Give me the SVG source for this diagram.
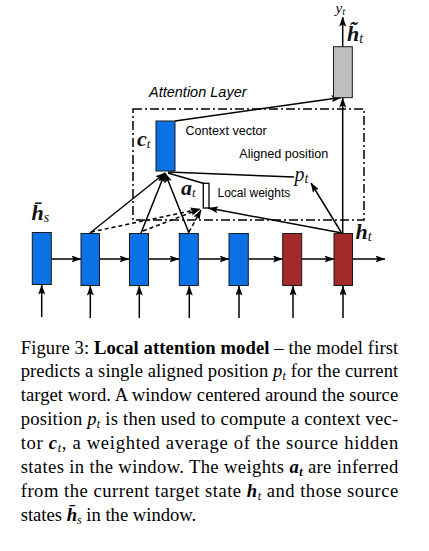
<svg xmlns="http://www.w3.org/2000/svg" width="429" height="551" viewBox="0 0 429 551">
<defs>
<marker id="ah" markerWidth="10" markerHeight="7" refX="9.5" refY="3.5" orient="auto" markerUnits="userSpaceOnUse">
<path d="M0,0 L10,3.5 L0,7 L2,3.5 Z" fill="#000"/>
</marker>
<style>
.blue{fill:#0a72e6;stroke:#1a1a1a;stroke-width:1}
.red{fill:#a3292b;stroke:#1a1a1a;stroke-width:1}
.gray{fill:#bfbfbf;stroke:#1a1a1a;stroke-width:1}
.ln{stroke:#000;stroke-width:1.5;fill:none}
.ar{stroke:#000;stroke-width:1.5;fill:none;marker-end:url(#ah)}
.da{stroke:#000;stroke-width:1.5;fill:none;stroke-dasharray:4,3;marker-end:url(#ah)}
.sans{font-family:"Liberation Sans",Arial,sans-serif;fill:#000}
.math{font-family:"Liberation Serif","Times New Roman",serif;font-style:italic;fill:#111}
.bm{font-family:"Liberation Serif","Times New Roman",serif;font-style:italic;font-weight:bold;fill:#111}
.cap{font-family:"Liberation Serif","Times New Roman",serif;font-size:18.6px;fill:#000}
</style>
</defs>
<rect width="429" height="551" fill="#fff"/>

<g id="frame">
<rect x="133" y="109" width="231" height="111" fill="none" stroke="#000" stroke-width="1.5" stroke-dasharray="9,3,2,3"/>
<text class="sans" x="149" y="97" font-size="14.5" font-style="italic">Attention Layer</text>
</g>

<g id="connectors">
<line class="ar" x1="51.5" y1="259" x2="81" y2="259"/>
<line class="ar" x1="99.5" y1="259" x2="129" y2="259"/>
<line class="ar" x1="148.5" y1="259" x2="179" y2="259"/>
<line class="ar" x1="198.5" y1="259" x2="229" y2="259"/>
<line class="ar" x1="248.5" y1="259" x2="282.5" y2="259"/>
<line class="ar" x1="301.5" y1="259" x2="334" y2="259"/>
<line class="ar" x1="352.5" y1="259" x2="385" y2="259"/>
<line class="ar" x1="41.7" y1="317" x2="41.7" y2="285"/>
<line class="ar" x1="90.3" y1="318" x2="90.3" y2="286"/>
<line class="ar" x1="139.3" y1="318" x2="139.3" y2="286"/>
<line class="ar" x1="189.3" y1="318" x2="189.3" y2="286"/>
<line class="ar" x1="239" y1="318" x2="239" y2="286"/>
<line class="ar" x1="293" y1="318" x2="293" y2="286"/>
<line class="ar" x1="343" y1="318" x2="343" y2="286"/>
<line class="ar" x1="90" y1="233" x2="165" y2="173"/>
<line class="ar" x1="141" y1="233" x2="165" y2="173"/>
<line class="ar" x1="189" y1="233" x2="165" y2="173"/>
<line class="da" x1="91" y1="232" x2="200" y2="209"/>
<line class="da" x1="143" y1="231" x2="200" y2="209"/>
<line class="da" x1="189" y1="232" x2="201" y2="210"/>
<line class="ar" x1="342" y1="233" x2="208.5" y2="208"/>
<line class="ar" x1="341" y1="232" x2="311" y2="183"/>
<line class="ar" x1="342.7" y1="233" x2="342.7" y2="98"/>
<line class="ar" x1="175" y1="121" x2="341" y2="97.5"/>
<line class="ln" x1="168" y1="172" x2="294" y2="177"/>
<line class="ln" x1="168" y1="173" x2="204" y2="183.5"/>
<line class="ar" x1="342.7" y1="47" x2="342.7" y2="17"/>
</g>

<g id="source-states">
<rect class="blue" x="32.3" y="232.5" width="19" height="52"/>
<rect class="blue" x="81" y="233.5" width="18.5" height="52"/>
<rect class="blue" x="129.5" y="233.5" width="19" height="52"/>
<rect class="blue" x="179.3" y="233.5" width="19" height="52"/>
<rect class="blue" x="229" y="233.5" width="19.3" height="52"/>
<text class="bm" x="31.5" y="220" font-size="22">h&#x0304;<tspan font-size="14" dy="2" font-weight="normal">s</tspan></text>
</g>

<g id="target-states">
<rect class="red" x="282.7" y="233.5" width="19" height="52"/>
<rect class="red" x="334" y="233.5" width="18.5" height="52"/>
<text class="bm" x="355.5" y="239" font-size="22">h<tspan font-size="14" dy="2" font-weight="normal">t</tspan></text>
</g>

<g id="context-vector">
<rect class="blue" x="156" y="121" width="19" height="50"/>
<text class="bm" x="137" y="146" font-size="22">c<tspan font-size="13" dy="2" font-weight="normal">t</tspan></text>
<text class="sans" x="185.5" y="135" font-size="12.6">Context vector</text>
</g>

<g id="aligned-position">
<text class="sans" x="239.3" y="158" font-size="12.6">Aligned position</text>
<text class="math" x="294.5" y="181" font-size="20">p<tspan font-size="14" dy="2">t</tspan></text>
</g>

<g id="local-weights">
<rect x="203.3" y="183.3" width="5.7" height="24.7" fill="#fff" stroke="#000" stroke-width="1.3"/>
<text class="bm" x="181" y="195" font-size="22">a<tspan font-size="13" dy="2" font-weight="normal">t</tspan></text>
<text class="sans" x="217.5" y="197.3" font-size="12">Local weights</text>
</g>

<g id="attentional-hidden">
<rect class="gray" x="333.5" y="46.7" width="18.8" height="51"/>
<text class="bm" x="347" y="41" font-size="22">h&#x0303;<tspan font-size="14" dy="2" font-weight="normal">t</tspan></text>
<text class="math" x="335.5" y="13" font-size="15">y<tspan font-size="10.5" dy="1.5">t</tspan></text>
</g>

<g id="caption" class="cap">
<text x="20.7" y="353.5" textLength="377.5" lengthAdjust="spacing">Figure 3: <tspan font-weight="bold">Local attention model</tspan> – the model first</text>
<text x="20.7" y="377.4" textLength="377.5" lengthAdjust="spacing">predicts a single aligned position <tspan font-style="italic">p</tspan><tspan font-style="italic" font-size="12" dy="3">t</tspan><tspan dy="-3"> for the current</tspan></text>
<text x="20.7" y="401.3" textLength="377.5" lengthAdjust="spacing">target word. A window centered around the source</text>
<text x="20.7" y="425.2" textLength="377.5" lengthAdjust="spacing">position <tspan font-style="italic">p</tspan><tspan font-style="italic" font-size="12" dy="3">t</tspan><tspan dy="-3"> is then used to compute a context vec-</tspan></text>
<text x="20.7" y="449.1" textLength="377.5" lengthAdjust="spacing">tor <tspan font-style="italic" font-weight="bold">c</tspan><tspan font-style="italic" font-size="12" dy="3">t</tspan><tspan dy="-3">, a weighted average of the source hidden</tspan></text>
<text x="20.7" y="473" textLength="377.5" lengthAdjust="spacing">states in the window. The weights <tspan font-style="italic" font-weight="bold">a</tspan><tspan font-style="italic" font-weight="bold" font-size="12" dy="3">t</tspan><tspan dy="-3"> are inferred</tspan></text>
<text x="20.7" y="496.9" textLength="377.5" lengthAdjust="spacing">from the current target state <tspan font-style="italic" font-weight="bold">h</tspan><tspan font-style="italic" font-size="12" dy="3">t</tspan><tspan dy="-3"> and those source</tspan></text>
<text x="20.7" y="520.8">states <tspan font-style="italic" font-weight="bold">h&#x0304;</tspan><tspan font-style="italic" font-size="12" dy="3">s</tspan><tspan dy="-3"> in the window.</tspan></text>
</g>
</svg>
